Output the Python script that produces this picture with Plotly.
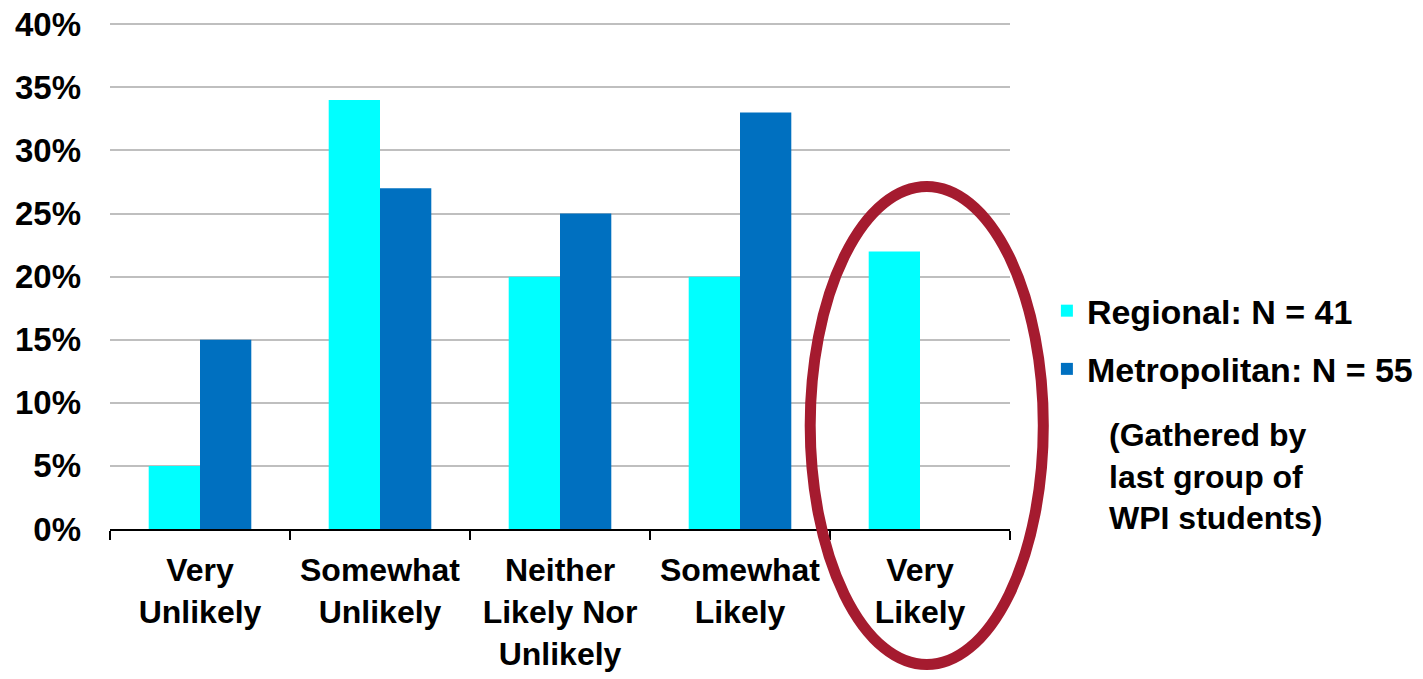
import plotly.graph_objects as go

categories = ["Very<br>Unlikely", "Somewhat<br>Unlikely", "Neither<br>Likely Nor<br>Unlikely",
              "Somewhat<br>Likely", "Very<br>Likely"]
regional = [5, 34, 20, 20, 22]
metropolitan = [15, 27, 25, 33, None]
series_names = ["Regional: N = 41", "Metropolitan: N = 55"]
note_text = "(Gathered by<br>last group of<br>WPI students)"
y_ticks = [0, 5, 10, 15, 20, 25, 30, 35, 40]
y_tick_labels = [f"{v}%" for v in y_ticks]

FONT = "Liberation Sans, Arial, sans-serif"

fig = go.Figure()
fig.add_trace(go.Bar(x=categories, y=regional, name=series_names[0],
                     marker=dict(color="#00FFFF", line=dict(width=0)),
                     legendgroup="a"))
fig.add_trace(go.Bar(x=categories, y=metropolitan, name=series_names[1],
                     marker=dict(color="#0070C0", line=dict(width=0)),
                     legendgroup="b"))

fig.update_layout(
    width=1423, height=679,
    margin=dict(l=110, r=413, t=23, b=150, autoexpand=False),
    paper_bgcolor="white", plot_bgcolor="white",
    font=dict(family=FONT, size=33, color="black", weight="bold"),
    barmode="group", bargap=0.43, bargroupgap=0,
    showlegend=True,
    legend=dict(x=1.041, y=0.488, xanchor="left", yanchor="top",
                font=dict(size=34, family=FONT, weight="bold"),
                traceorder="grouped", tracegroupgap=11,
                bgcolor="rgba(0,0,0,0)"),
)
fig.update_xaxes(
    showline=True, linecolor="black", linewidth=2,
    ticks="outside", tickson="boundaries", ticklen=9, tickwidth=2, tickcolor="black",
    showgrid=False, tickfont=dict(size=32, family=FONT, weight="bold"),
    ticklabelstandoff=12, automargin=False,
)
fig.update_yaxes(
    range=[0, 40.1], tickmode="array", tickvals=y_ticks, ticktext=y_tick_labels,
    showgrid=True, gridcolor="#BFBFBF", gridwidth=1.5,
    showline=False, zeroline=False, ticks="", ticklabelstandoff=28,
    tickfont=dict(size=33, family=FONT, weight="bold"), automargin=False,
)

fig.add_annotation(text=note_text, xref="paper", yref="paper", x=1.108, y=0.225,
                   xanchor="left", yanchor="top", align="left", showarrow=False,
                   font=dict(size=32, family=FONT, weight="bold", color="black"))

fig.add_shape(type="circle", xref="paper", yref="paper",
              x0=0.778, x1=1.037, y0=-0.268, y1=0.677,
              line=dict(color="#A51B2F", width=11), fillcolor="rgba(0,0,0,0)")

fig.write_html("out.html")
